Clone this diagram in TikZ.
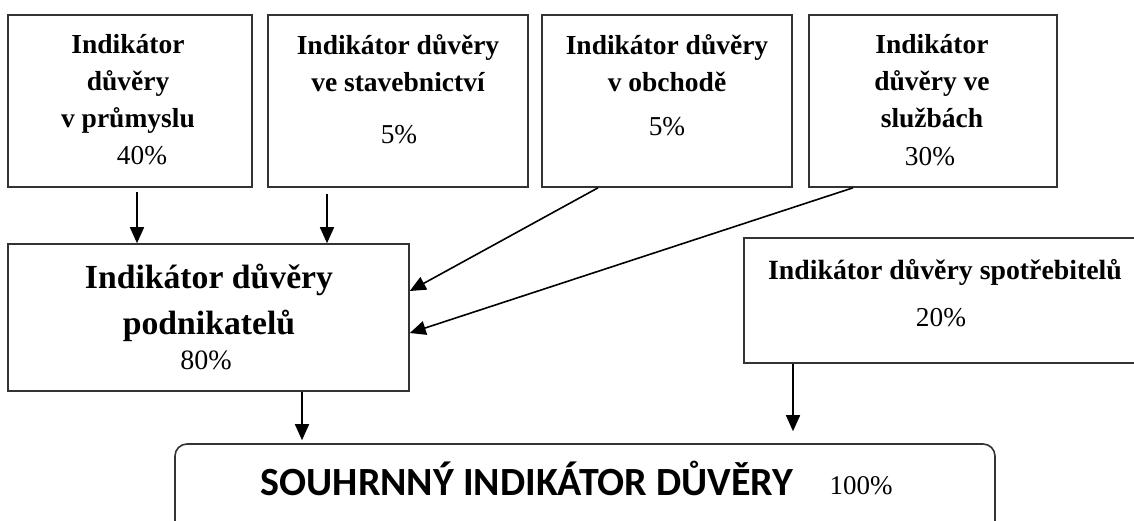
\documentclass[tikz,border=0pt]{standalone}
\usepackage{fontspec}
\setmainfont{Liberation Serif}
\newfontfamily\calibri{Carlito}
\usetikzlibrary{arrows.meta}

\begin{document}
\begin{tikzpicture}[x=1pt, y=-1pt,
        box/.style={draw=black!80, line width=1.6pt, inner sep=0pt},
        ttl/.style={font=\bfseries\fontsize{27.5}{37}\selectfont, align=center, inner sep=0pt, anchor=north},
        pct/.style={font=\fontsize{27.3}{32}\selectfont, inner sep=0pt, anchor=base},
        arr/.style={-{Triangle[length=16pt,width=14pt]}, line width=1.6pt}]
        \useasboundingbox (0,0) rectangle (1134,520);

        \node[box, minimum width=244, minimum height=172] (prumysl) at (130,101) {};
        \node[box, minimum width=260, minimum height=172] (stavby) at (398,101) {};
        \node[box, minimum width=250, minimum height=172] (obchod) at (667,101) {};
        \node[box, minimum width=248, minimum height=172] (sluzby) at (933,101) {};
        \node[box, minimum width=401, minimum height=147] (podnik) at (208.5,317.5) {};
        \node[box, minimum width=406, minimum height=125] (spotr) at (947,300.5) {};
        \node[box, rounded corners=12pt, minimum width=820, minimum height=96] (souhrn) at (585,492) {};

        \node[ttl] (t1) at (128,34) {Indikátor\\důvěry\\v průmyslu};
        \node[pct] (p1) at (142,164) {40\%};
        \node[ttl] (t2) at (398,34) {Indikátor důvěry\\ve stavebnictví};
        \node[pct] (p2) at (399,143) {5\%};
        \node[ttl] (t3) at (667,34) {Indikátor důvěry\\v obchodě};
        \node[pct] (p3) at (667,135) {5\%};
        \node[ttl] (t4) at (932,34) {Indikátor\\důvěry ve\\službách};
        \node[pct] (p4) at (930,165) {30\%};

        \node[ttl, font=\bfseries\fontsize{33.7}{46}\selectfont] (t5) at (209,264) {Indikátor důvěry\\podnikatelů};
        \node[pct, font=\fontsize{28}{32}\selectfont] (p5) at (206,369.5) {80\%};
        \node[ttl, font=\bfseries\fontsize{27.8}{37}\selectfont] (t6) at (945,259) {Indikátor důvěry spotřebitelů};
        \node[pct] (p6) at (941,326) {20\%};

        \node[font=\calibri\bfseries\fontsize{40}{46}\selectfont, anchor=base, inner sep=0pt] (t7) at (527,495) {SOUHRNNÝ INDIKÁTOR DŮVĚRY};
        \node[pct, font=\fontsize{27}{32}\selectfont] (p7) at (861,494) {100\%};

        \coordinate (a1) at ([xshift=7pt,yshift=-4pt]prumysl.south);
        \coordinate (a2) at ([xshift=-71pt,yshift=-6pt]stavby.south);
        \coordinate (a3) at ([xshift=93.5pt]podnik.south);
        \coordinate (a4) at ([xshift=-154pt]spotr.south);

        \draw[arr] (a1) -- (a1 |- podnik.north);
        \draw[arr] (a2) -- (a2 |- podnik.north);
        \draw[arr] ([xshift=-69pt]obchod.south) -- ([yshift=26.5pt]podnik.east);
        \draw[arr] ([xshift=-80pt]sluzby.south) -- ([yshift=-15.5pt]podnik.east);
        \draw[arr, shorten >=3pt] (a3) -- (a3 |- souhrn.north);
        \draw[arr, shorten >=12pt] (a4) -- (a4 |- souhrn.north);
    \end{tikzpicture}
\end{document}
